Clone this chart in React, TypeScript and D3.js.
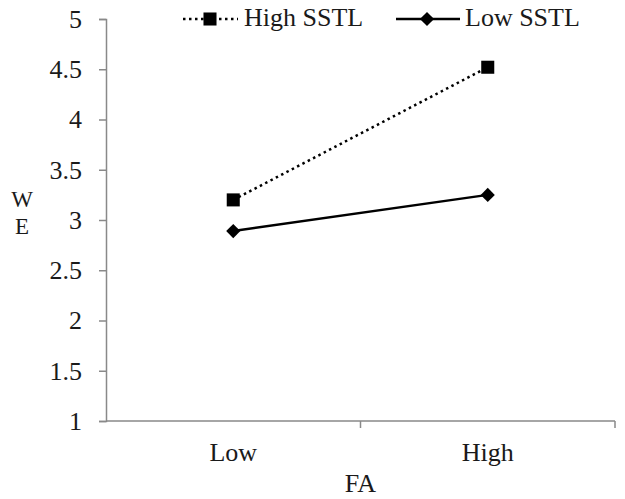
import React, { useRef, useEffect } from "react";
import * as d3 from "d3";

const categories = ["Low", "High"];
const yTicks = [1, 1.5, 2, 2.5, 3, 3.5, 4, 4.5, 5];
const highSSTL = [3.2, 4.52];
const lowSSTL = [2.89, 3.25];
const seriesNames = ["High SSTL", "Low SSTL"];
const yTitle = ["W", "E"];

const FONT = "Liberation Serif";
const FS = "26px";

export default function App() {
    const ref = useRef<SVGSVGElement | null>(null);

    useEffect(() => {
        if (!ref.current) return;
        const svg = d3.select(ref.current);
        svg.selectAll("*").remove();

        const width = 625;
        const height = 499;
        const margin = { top: 19, right: 10, bottom: 78, left: 106 };

        const x = d3.scaleBand<string>().domain(categories).range([margin.left, width - margin.right]);
        const y = d3.scaleLinear().domain([1, 5]).range([height - margin.bottom, margin.top]);
        const cx = (c: string) => (x(c) ?? 0) + x.bandwidth() / 2;

        const axisColor = "#898989";

        // y axis
        const yAxis = svg.append("g").attr("transform", `translate(${margin.left},0)`)
            .call(d3.axisLeft(y).tickValues(yTicks).tickSize(7).tickPadding(17).tickFormat(d => `${d}`));
        yAxis.attr("font-family", FONT).attr("font-size", FS);
        yAxis.select(".domain").attr("stroke", axisColor).attr("stroke-width", 1.5);
        yAxis.selectAll(".tick line").attr("stroke", axisColor).attr("stroke-width", 1.5);
        yAxis.selectAll(".tick text").attr("fill", "#1a1a1a");

        // x axis: ticks between categories
        const xg = svg.append("g").attr("transform", `translate(0,${y(1)})`);
        xg.append("line")
            .attr("x1", margin.left).attr("x2", width - margin.right)
            .attr("stroke", axisColor).attr("stroke-width", 1.5);
        const bounds = [...categories.map(c => x(c) ?? 0), x.range()[1]];
        xg.selectAll("line.tk").data(bounds.slice(1)).enter().append("line")
            .attr("class", "tk")
            .attr("x1", d => d).attr("x2", d => d).attr("y1", 0).attr("y2", 7)
            .attr("stroke", axisColor).attr("stroke-width", 1.5);
        xg.selectAll("text").data(categories).enter().append("text")
            .attr("x", d => cx(d)).attr("y", 40)
            .attr("text-anchor", "middle").attr("fill", "#1a1a1a")
            .text(d => d);

        // axis titles
        svg.append("text").attr("x", (margin.left + width - margin.right) / 2).attr("y", 492)
            .attr("text-anchor", "middle").attr("fill", "#1a1a1a")
            .text("FA");
        yTitle.forEach((ch, i) => {
            svg.append("text").attr("x", 22).attr("y", 207 + i * 26.5)
                .attr("text-anchor", "middle").attr("font-size", "23px").attr("fill", "#1a1a1a")
                .text(ch);
        });

        const line = d3.line<number>().x((_, i) => cx(categories[i])).y(d => y(d));

        // High SSTL: dotted
        svg.append("path").datum(highSSTL).attr("d", line)
            .attr("fill", "none").attr("stroke", "#000").attr("stroke-width", 2.5)
            .attr("stroke-dasharray", "2.5 3.5");
        // Low SSTL: solid
        svg.append("path").datum(lowSSTL).attr("d", line)
            .attr("fill", "none").attr("stroke", "#000").attr("stroke-width", 2.5);

        const square = d3.symbol(d3.symbolSquare, 170);
        const diamond = d3.symbol(d3.symbolSquare, 100);

        svg.selectAll("path.sq").data(highSSTL).enter().append("path")
            .attr("class", "sq").attr("d", square)
            .attr("transform", (d, i) => `translate(${cx(categories[i])},${y(d)})`)
            .attr("fill", "#000");
        svg.selectAll("path.dm").data(lowSSTL).enter().append("path")
            .attr("class", "dm").attr("d", diamond)
            .attr("transform", (d, i) => `translate(${cx(categories[i])},${y(d)}) rotate(45)`)
            .attr("fill", "#000");

        // legend
        const lg = svg.append("g").attr("transform", "translate(0,19)");
        lg.append("line").attr("x1", 183).attr("x2", 238).attr("stroke", "#000").attr("stroke-width", 2.5)
            .attr("stroke-dasharray", "2.5 3.5");
        lg.append("path").attr("d", square).attr("transform", "translate(210,0)").attr("fill", "#000");
        lg.append("text").attr("x", 244).attr("y", 6.5).attr("fill", "#1a1a1a")
            .text(seriesNames[0]);
        lg.append("line").attr("x1", 396).attr("x2", 460).attr("stroke", "#000").attr("stroke-width", 2.5);
        lg.append("path").attr("d", diamond).attr("transform", "translate(427,0) rotate(45)").attr("fill", "#000");
        lg.append("text").attr("x", 465).attr("y", 6.5).attr("fill", "#1a1a1a")
            .text(seriesNames[1]);
    }, []);

    return (
        <svg ref={ref} width={625} height={499} fontFamily={FONT} fontSize={FS}
            style={{ position: "absolute", left: 0, top: 0, background: "#fff" }} />
    );
}
